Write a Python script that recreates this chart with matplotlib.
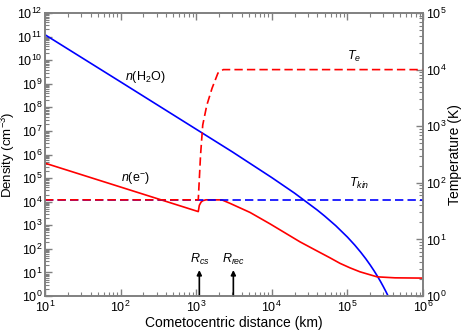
import numpy as np
import matplotlib
matplotlib.use("Agg")
import matplotlib.pyplot as plt

plt.rcParams["font.family"] = ["Liberation Sans", "DejaVu Sans"]
plt.rcParams["mathtext.fontset"] = "custom"
plt.rcParams["mathtext.rm"] = "Liberation Sans"
plt.rcParams["mathtext.it"] = "Liberation Sans:italic"

# ------------------------------------------
# Data
# ------------------------------------------
# water density n(H2O) [cm^-3] vs distance [km]
r_h2o = [10, 100, 1000, 3000, 1e4, 2e4, 4e4, 5e4, 7e4, 1e5, 1.25e5, 1.5e5,
         1.75e5, 2e5, 2.25e5, 2.5e5, 2.75e5, 3e5, 3.25e5, 3.5e5, 3.75e5]
n_h2o = [1.2e11, 1.2e9, 1.18e7, 1.3e6, 1.05e5, 2.3e4, 4.4e3, 2.46e3, 964, 316, 145, 72,
         38, 20.8, 11.8, 6.85, 4.06, 2.44, 1.49, 0.92, 0.58]

# electron density n(e-)
r_e = [10, 1065, 1100, 1160, 1220, 1350, 2190, 2800, 5150, 9460, 2.36e4, 3.72e4,
       5.89e4, 7.98e4, 1.08e5, 1.47e5, 2.47e5, 4.27e5, 1e6]
n_e = [4.3e5, 3.8e3, 7.0e3, 9.6e3, 1.1e4, 1.2e4, 1.19e4, 8.5e3, 3.5e3, 1150, 198, 90.8,
       41.6, 24.3, 15.7, 10.6, 6.5, 5.9, 5.75]

# temperatures [K]
r_te = [10, 1065, 1140, 1220, 1380, 1620, 1940, 2280, 1e6]
t_e = [50, 50, 300, 1050, 2340, 4680, 8700, 1e4, 1e4]
r_tkin = [10, 1e6]
t_kin = [50, 50]

# marked radii
r_cs = 1100
r_rec = 3100

# ------------------------------------------
# Plot
# ------------------------------------------
gray = "#808080"
fig = plt.figure(figsize=(4.63, 3.31), dpi=100)
ax = fig.add_axes([0.0972, 0.1057, 0.8164, 0.855])
ax2 = ax.twinx()

ax.plot(r_h2o, n_h2o, color="blue", lw=1.2)
ax.plot(r_e, n_e, color="red", lw=1.2)
ax2.plot(r_tkin, t_kin, color="blue", lw=1.2, ls=(0, (5, 2.5)))
ax2.plot(r_te, t_e, color="red", lw=1.2, ls=(0, (5, 2.5)))

ax.set_xscale("log")
ax.set_yscale("log")
ax2.set_yscale("log")
ax.set_xlim(10, 1e6)
ax.set_ylim(1, 1e12)
ax2.set_ylim(1, 1e5)

ax.yaxis.set_major_locator(matplotlib.ticker.LogLocator(base=10, numticks=20))
ax.yaxis.set_minor_locator(matplotlib.ticker.LogLocator(base=10, subs=np.arange(2, 10), numticks=20))
ax.xaxis.set_minor_locator(matplotlib.ticker.LogLocator(base=10, subs=np.arange(2, 10), numticks=20))

for a in (ax, ax2):
    for s in a.spines.values():
        s.set_color(gray)
        s.set_linewidth(1.2)
    a.tick_params(which="both", direction="in", colors=gray, labelcolor="black", labelsize=9)
    a.tick_params(which="major", length=5, width=1)
    a.tick_params(which="minor", length=3, width=0.8)
ax.tick_params(which="both", top=True, right=False)
ax.tick_params(axis="x", pad=3)
ax.tick_params(axis="y", pad=2)
ax2.tick_params(axis="y", pad=2)

ax.set_xlabel("Cometocentric distance (km)", fontsize=10)
ax.set_ylabel("Density (cm$^{-3}$)", fontsize=9.5)
ax2.set_ylabel("Temperature (K)", fontsize=10, rotation=90)
ax.xaxis.set_label_coords(0.5, -0.07)
ax.yaxis.set_label_coords(-0.073, 0.5)
ax2.yaxis.set_label_coords(1.066, 0.5)

# curve labels
ax.text(115, 10**9.29, "$n$(H$_2$O)", fontsize=9, va="center", ha="left")
ax.text(100, 10**5.0, "$n$(e$^{-}$)", fontsize=9, va="center", ha="left")
ax2.text(9.8e4, 10**4.23, "$T_e$", fontsize=9, va="center", ha="left")
ax2.text(1.05e5, 10**1.99, "$T_{kin}$", fontsize=9, va="center", ha="left")

# arrows for R_cs and R_rec
for r0, lab in ((r_cs, "$R_{cs}$"), (r_rec, "$R_{rec}$")):
    ax.annotate("", xy=(r0, 10**1.1), xytext=(r0, 1),
                arrowprops=dict(arrowstyle="-|>", color="black", lw=1.2,
                                mutation_scale=7, shrinkA=0, shrinkB=0))
    ax.text(r0, 10**1.55, lab, fontsize=9, ha="center", va="center")

fig.savefig("out.png", dpi=100)
